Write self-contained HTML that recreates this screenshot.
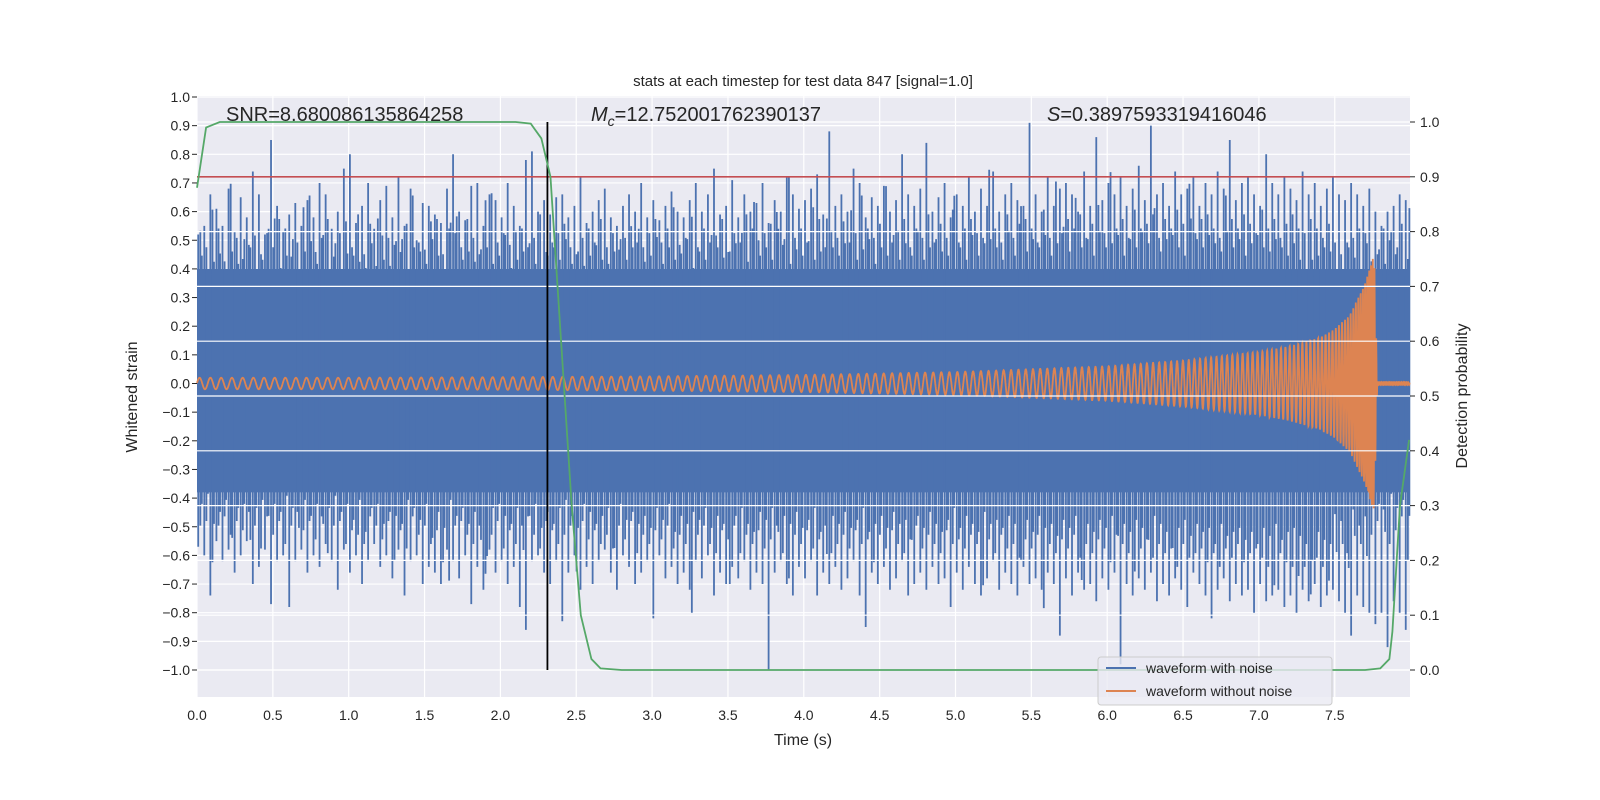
<!DOCTYPE html>
<html><head><meta charset="utf-8"><style>
html,body{margin:0;padding:0;background:#fff;overflow:hidden;width:1600px;height:800px;}
svg{display:block;font-family:"Liberation Sans","DejaVu Sans",sans-serif;}
</style></head><body>
<svg id="chart" width="1600" height="800" viewBox="0 0 1600 800" xmlns="http://www.w3.org/2000/svg">
<rect width="1600" height="800" fill="#fff"/>
<g id="bg"></g><g id="gridL"></g><g id="blue"></g><g id="orange"></g><g id="gridR"></g><g id="green"></g><g id="axes"></g>
<text x="803" y="86" font-size="15" text-anchor="middle" fill="#262626">stats at each timestep for test data 847 [signal=1.0]</text>
<text x="226" y="121" font-size="20" fill="#262626">SNR=8.680086135864258</text>
<text x="591" y="121" font-size="20" fill="#262626"><tspan font-style="italic">M</tspan><tspan font-style="italic" font-size="14" dy="5">c</tspan><tspan dy="-5">=12.752001762390137</tspan></text>
<text x="1047" y="121" font-size="20" fill="#262626"><tspan font-style="italic">S</tspan>=0.3897593319416046</text>
<text x="803" y="745" font-size="16" text-anchor="middle" fill="#262626">Time (s)</text>
<text transform="translate(137,397) rotate(-90)" font-size="16" text-anchor="middle" fill="#262626">Whitened strain</text>
<text transform="translate(1467,396) rotate(-90)" font-size="16" text-anchor="middle" fill="#262626">Detection probability</text>
<g>
<rect x="1098" y="657" width="234" height="48" rx="3" fill="#eaeaf2" fill-opacity="0.8" stroke="#ccc"/>
<line x1="1106" y1="668" x2="1136" y2="668" stroke="#4c72b0" stroke-width="2"/>
<text x="1146" y="673" font-size="14" fill="#262626">waveform with noise</text>
<line x1="1106" y1="691" x2="1136" y2="691" stroke="#dd8452" stroke-width="2"/>
<text x="1146" y="696" font-size="14" fill="#262626">waveform without noise</text>
</g>
</svg>
<script>
const upperPeaks=[.52,.55,.66,.61,.55,.68,.53,.65,.58,.74,.66,.52,.85,.62,.53,.59,.63,.55,.64,.58,
.70,.66,.54,.60,.75,.80,.56,.62,.70,.54,.64,.69,.58,.72,.55,.68,.50,.63,.62,.59,
.56,.68,.80,.60,.57,.69,.70,.55,.66,.64,.58,.70,.62,.55,.78,.81,.60,.64,.59,.65,
.66,.58,.62,.72,.56,.60,.64,.68,.58,.55,.62,.66,.60,.70,.58,.64,.57,.62,.67,.60,
.58,.64,.70,.60,.66,.75,.59,.62,.71,.58,.66,.60,.63,.70,.56,.64,.60,.72,.66,.61,
.64,.68,.73,.59,.88,.62,.66,.60,.75,.70,.58,.65,.62,.69,.60,.64,.80,.66,.62,.68,
.84,.60,.65,.70,.58,.66,.62,.72,.60,.68,.62,.74,.60,.66,.70,.64,.62,.91,.66,.60,
.72,.62,.68,.70,.66,.60,.74,.62,.86,.64,.70,.66,.72,.62,.68,.76,.64,.90,.66,.70,
.62,.74,.66,.68,.72,.62,.70,.66,.74,.68,.85,.64,.70,.72,.66,.62,.80,.70,.66,.72,
.68,.64,.74,.66,.70,.62,.68,.72,.66,.64,.70,.66,.62,.68,.60,.55,.60,.62,.66,.64];
const lowerPeaks=[-.57,-.60,-.74,-.55,-.62,-.58,-.66,-.60,-.55,-.70,-.64,-.58,-.77,-.62,-.60,-.78,-.62,-.58,-.66,-.60,
-.64,-.56,-.62,-.72,-.58,-.66,-.60,-.70,-.62,-.56,-.64,-.60,-.68,-.58,-.74,-.62,-.60,-.70,-.64,-.66,
-.70,-.58,-.62,-.68,-.60,-.77,-.64,-.72,-.58,-.66,-.62,-.70,-.64,-.78,-.86,-.62,-.60,-.66,-.70,-.62,
-.83,-.66,-.60,-.72,-.64,-.70,-.62,-.58,-.66,-.72,-.60,-.64,-.70,-.66,-.62,-.82,-.60,-.68,-.64,-.70,
-.66,-.72,-.62,-.68,-.60,-.74,-.66,-.70,-.64,-.68,-.62,-.72,-.66,-.70,-1.0,-.66,-.62,-.70,-.74,-.64,
-.68,-.62,-.74,-.66,-.70,-.64,-.72,-.68,-.62,-.74,-.85,-.66,-.70,-.64,-.72,-.68,-.62,-.74,-.70,-.66,
-.72,-.64,-.70,-.68,-.78,-.66,-.72,-.64,-.70,-.74,-.68,-.62,-.72,-.66,-.70,-.74,-.64,-.70,-.68,-.72,
-.66,-.70,-.88,-.68,-.74,-.66,-.72,-.70,-.76,-.68,-.72,-.66,-.98,-.70,-.74,-.68,-.72,-.66,-.76,-.70,
-.74,-.68,-.72,-.78,-.66,-.70,-.74,-.82,-.72,-.68,-.76,-.70,-.74,-.72,-.80,-.70,-.76,-.74,-.72,-.78,
-.74,-.80,-.72,-.76,-.70,-.78,-.74,-.72,-.76,-.80,-.88,-.74,-.78,-.80,-.84,-.80,-.92,-.76,-.80,-.86];
const coreTop=0.40, coreBottom=-0.38;
const chirpTimes=[0,1,2,3,4,5,5.5,6,6.5,7,7.2,7.4,7.5,7.6,7.7,7.76,7.78,8];
const chirpAmp=[0.02,0.02,0.022,0.025,0.03,0.04,0.05,0.06,0.08,0.11,0.13,0.16,0.19,0.24,0.35,0.45,0.005,0.005];
const chirpFreq=[14,14.5,15,16,17,19,21,23,26,31,35,40,46,55,70,90,90,90];
const probTimes=[0,0.06,0.15,2.1,2.2,2.27,2.33,2.4,2.47,2.53,2.6,2.66,2.8,7.7,7.8,7.86,7.88,7.93,7.99];
const probValues=[0.88,0.99,1.0,1.0,0.997,0.97,0.9,0.6,0.3,0.1,0.02,0.003,0,0,0.003,0.02,0.07,0.3,0.42];
const leftTicks=[1.0,0.9,0.8,0.7,0.6,0.5,0.4,0.3,0.2,0.1,0.0,-0.1,-0.2,-0.3,-0.4,-0.5,-0.6,-0.7,-0.8,-0.9,-1.0];
const rightTicks=[1.0,0.9,0.8,0.7,0.6,0.5,0.4,0.3,0.2,0.1,0.0];
const xTicks=[0,0.5,1,1.5,2,2.5,3,3.5,4,4.5,5,5.5,6,6.5,7,7.5];
const threshold=0.9, markerTime=2.31;

const NS='http://www.w3.org/2000/svg';
const PL=197,PR=1410,PT=96,PB=697;
const X=t=>PL+t*151.7;
const YL=v=>383.5-v*286.5;
const YR=p=>670-p*548;
function el(tag,attrs,parent){const e=document.createElementNS(NS,tag);for(const k in attrs)e.setAttribute(k,attrs[k]);parent.appendChild(e);return e;}
const bg=document.getElementById('bg');
const r=el('rect',{x:PL,y:PT,width:PR-PL,height:PB-PT,fill:'#eaeaf2'},bg);


const gL=document.getElementById('gridL'),ax=document.getElementById('axes');
leftTicks.forEach(v=>{
  el('line',{x1:PL,x2:PR,y1:YL(v),y2:YL(v),stroke:'#fff','stroke-width':1.2},gL);
  const t=el('text',{x:PL-7,y:YL(v)+5,'font-size':14,'text-anchor':'end',fill:'#262626'},ax);
  t.textContent=(v<0?'\u2212'+(-v).toFixed(1):v.toFixed(1));
  
  
});
xTicks.forEach(v=>{
  el('line',{x1:X(v),x2:X(v),y1:PT,y2:PB,stroke:'#fff','stroke-width':1.2},gL);
  const t=el('text',{x:X(v),y:PB+23,'font-size':14,'text-anchor':'middle',fill:'#262626'},ax);
  t.textContent=v.toFixed(1);
  
  
});
rightTicks.forEach(v=>{
  el('line',{x1:PR,x2:PR+5,y1:YR(v),y2:YR(v),stroke:'#262626','stroke-width':1},ax);
  const t=el('text',{x:PR+10,y:YR(v)+5,'font-size':14,fill:'#262626'},ax);
  t.textContent=v.toFixed(1);
  
  
});
leftTicks.forEach(v=>{el('line',{x1:PL-5,x2:PL,y1:YL(v),y2:YL(v),stroke:'#262626','stroke-width':1},ax);});
// blue noisy waveform
const blue=document.getElementById('blue');
const core=el('rect',{x:PL,y:YL(coreTop),width:PR-PL,height:YL(coreBottom)-YL(coreTop),fill:'#4c72b0'},blue);


const n=upperPeaks.length,dt=8/n;
let d='';
for(let i=0;i<n;i++){
  const j=(i+7)%n,k=(i+13)%n;
  const x=X(i*dt+dt*0.2), x2=X(i*dt+dt*0.55), x3=X(i*dt+dt*0.8);
  d+=`M${x},${YL(0)}V${YL(upperPeaks[i])}M${x},${YL(0)}V${YL(lowerPeaks[i])}`;
  d+=`M${x2},${YL(0)}V${YL(upperPeaks[j]*0.82)}M${x2},${YL(0)}V${YL(lowerPeaks[k]*0.8)}`;
  d+=`M${x3},${YL(0)}V${YL(upperPeaks[k]*0.72)}M${x3},${YL(0)}V${YL(lowerPeaks[j]*0.7)}`;
}
const bp=el('path',{d:d,stroke:'#4c72b0','stroke-width':1.8,fill:'none'},blue);


// orange chirp
function interp(xs,ys,t){if(t<=xs[0])return ys[0];for(let i=1;i<xs.length;i++){if(t<=xs[i]){const f=(t-xs[i-1])/(xs[i]-xs[i-1]);return ys[i-1]+f*(ys[i]-ys[i-1]);}}return ys[ys.length-1];}
let ph=0,pts=[];
for(let t=0;t<=7.995;t+=0.001){
  ph+=2*Math.PI*interp(chirpTimes,chirpFreq,t)*0.001;
  pts.push(X(t).toFixed(1)+','+YL(interp(chirpTimes,chirpAmp,t)*Math.sin(ph)).toFixed(1));
}
const op=el('polyline',{points:pts.join(' '),stroke:'#dd8452','stroke-width':1.8,fill:'none'},document.getElementById('orange'));


// right grid on top
const gR=document.getElementById('gridR');
rightTicks.forEach(v=>{el('line',{x1:PL,x2:PR,y1:YR(v),y2:YR(v),stroke:'#fff','stroke-width':1.2},gR);});
// threshold + marker + probability
const g=document.getElementById('green');
const th=el('line',{x1:PL,x2:PR,y1:YR(threshold),y2:YR(threshold),stroke:'#c44e52','stroke-width':1.6},g);


const mk=el('line',{x1:X(markerTime),x2:X(markerTime),y1:YR(1),y2:YR(0),stroke:'#000','stroke-width':1.8},g);


const gp=el('polyline',{points:probTimes.map((t,i)=>X(t)+','+YR(probValues[i])).join(' '),stroke:'#55a868','stroke-width':1.8,fill:'none'},g);


</script>
</body></html>
